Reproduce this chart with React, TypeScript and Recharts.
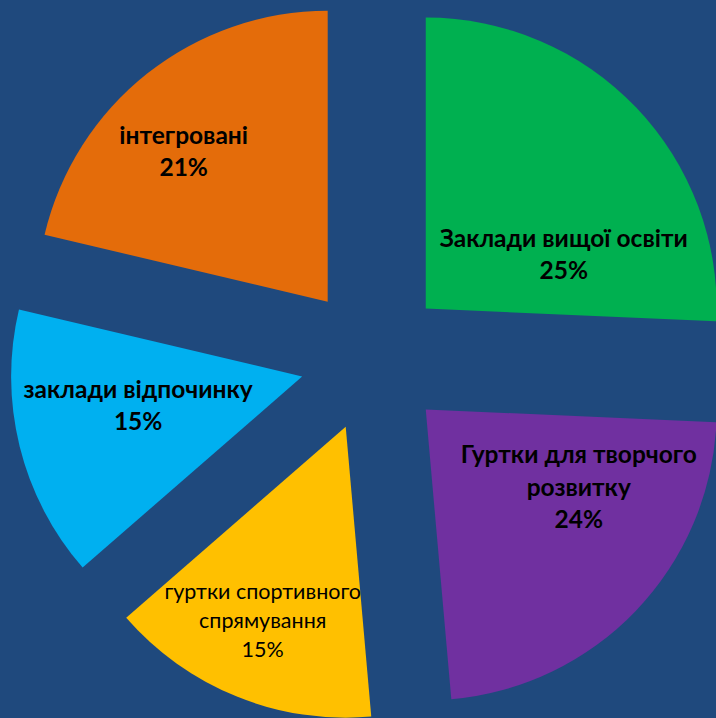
import { PieChart, Pie, Sector } from 'recharts';

const categories = [
  'Заклади вищої освіти',
  'Гуртки для творчого\nрозвитку',
  'гуртки спортивного\nспрямування',
  'заклади відпочинку',
  'інтегровані',
];
const values = [25.7, 22.9, 15.0, 15.1, 21.3];
const pctLabels = ['25%', '24%', '15%', '15%', '21%'];
const colors = ['#00B050', '#7030A0', '#FFC000', '#00B0F0', '#E46C0A'];

const data = categories.map((name, i) => ({ name, value: values[i] }));

const RADIAN = Math.PI / 180;
const EXPLODE = 73;

// label block: [dx of centre, dy of first baseline, line height, font size, bold] from the pulled-out apex
const labelLayout: [number, number, number, number, boolean][] = [
  [138, -62, 32, 24.5, true],
  [153, 54, 32.5, 24.5, true],
  [-83, 172, 29, 21.5, false],
  [-164, 22, 32, 24.5, true],
  [-144, -158, 32.5, 24.5, true],
];

const renderSlice = (props: any) => {
  const { cx, cy, innerRadius, outerRadius, startAngle, endAngle, midAngle, index } = props;
  const ex = cx + EXPLODE * Math.cos(-midAngle * RADIAN);
  const ey = cy + EXPLODE * Math.sin(-midAngle * RADIAN);
  const [dx, dy, lh, fs, bold] = labelLayout[index];
  const lines = [...categories[index].split('\n'), pctLabels[index]];
  return (
    <g key={`slice-${index}`}>
      <Sector
        cx={ex}
        cy={ey}
        innerRadius={innerRadius}
        outerRadius={outerRadius}
        startAngle={startAngle}
        endAngle={endAngle}
        fill={colors[index]}
      />
      <text
        x={ex + dx}
        y={ey + dy}
        textAnchor="middle"
        fill="#000"
        fontFamily="Lato, sans-serif"
        fontSize={fs}
        fontWeight={bold ? 700 : 400}
      >
        {lines.map((ln, j) => (
          <tspan key={j} x={ex + dx} dy={j === 0 ? 0 : lh}>
            {ln}
          </tspan>
        ))}
      </text>
    </g>
  );
};

export default function App() {
  return (
    <div style={{ position: 'absolute', left: 0, top: 0, width: 716, height: 718, background: '#1F497D', overflow: 'hidden' }}>
      <PieChart width={716} height={718}>
        <Pie
          data={data}
          dataKey="value"
          nameKey="name"
          cx={368}
          cy={354}
          innerRadius={0}
          outerRadius={291}
          startAngle={90}
          endAngle={-270}
          fill="none"
          stroke="none"
          label={renderSlice}
          labelLine={false}
          isAnimationActive={false}
        />
      </PieChart>
    </div>
  );
}
